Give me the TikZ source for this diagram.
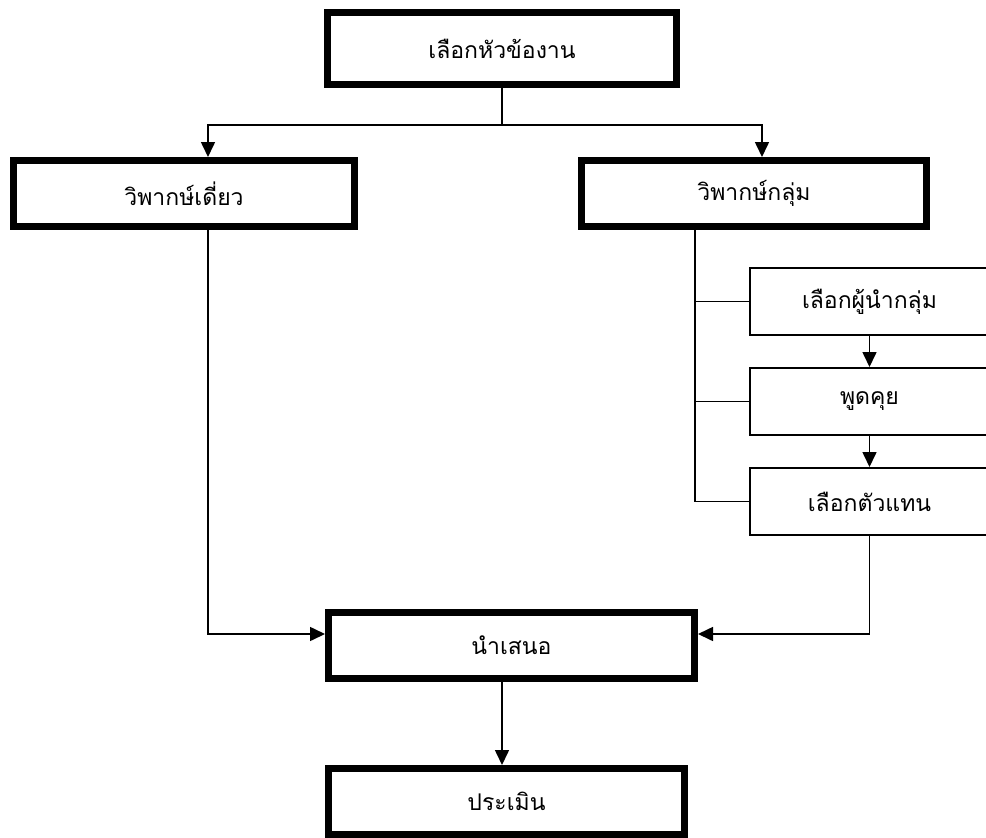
\documentclass[tikz,border=0pt]{standalone}
\usepackage{fontspec}
\newfontfamily\thaifont[Script=Thai]{Loma}
\usetikzlibrary{arrows.meta}
\tikzset{
  thick box/.style={draw, line width=7pt, inner sep=0pt, font=\thaifont\fontsize{23}{27}\selectfont},
  thin box/.style={draw, line width=2pt, inner sep=0pt, font=\thaifont\fontsize{23}{27}\selectfont},
  conn/.style={line width=1.6pt},
  arr/.style={line width=1.6pt, -{Triangle[length=15pt,width=14pt]}}
}
\begin{document}
\begin{tikzpicture}[x=1pt,y=-1pt]
\useasboundingbox (0,0) rectangle (986,838);
\node[thick box, minimum width=349pt, minimum height=72pt] (top) at (502,48.5) {เลือกหัวข้องาน};
\node[thick box, minimum width=341pt, minimum height=66pt] (left) at (184,193.5) {วิพากษ์เดี่ยว};
\node[thick box, minimum width=345pt, minimum height=66pt] (right) at (754,193.5) {วิพากษ์กลุ่ม};
\node[thin box, minimum width=239pt, minimum height=67pt] (b1) at (869.5,301.5) {เลือกผู้นำกลุ่ม};
\node[thin box, minimum width=239pt, minimum height=67pt] (b2) at (869.5,401.5) {พูดคุย};
\node[thin box, minimum width=239pt, minimum height=67pt] (b3) at (869.5,501.5) {เลือกตัวแทน};
\node[thick box, minimum width=366pt, minimum height=66pt] (present) at (511.5,645.5) {นำเสนอ};
\node[thick box, minimum width=356pt, minimum height=66pt] (eval) at (506.5,801.5) {ประเมิน};
\coordinate (jl) at (208,125);
\coordinate (jr) at (762,125);
\coordinate (vx) at (695,0);
\coordinate (ya) at (0,634);
\draw[conn] (top.south) -- (top.south |- jl);
\draw[arr] (top.south |- jl) -- (jl) -- (jl |- left.north);
\draw[arr] (top.south |- jr) -- (jr) -- (jr |- right.north);
\draw[arr] (left.south -| jl) |- (present.west |- ya);
\draw[conn] (right.south -| vx) -- (vx |- b3.west);
\draw[conn] (vx |- b1.west) -- (b1.west);
\draw[conn] (vx |- b2.west) -- (b2.west);
\draw[conn] (vx |- b3.west) -- (b3.west);
\draw[arr] (b1.south) -- (b2.north);
\draw[arr] (b2.south) -- (b3.north);
\draw[arr] (b3.south) |- (present.east |- ya);
\draw[arr] (present.south -| top.south) -- (eval.north -| top.south);
\end{tikzpicture}
\end{document}
